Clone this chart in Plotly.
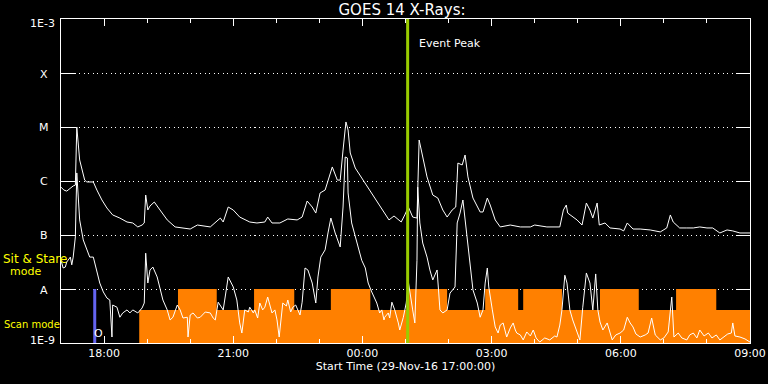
import math
import pandas as pd
import plotly.graph_objects as go

# ---------------- data ----------------
START = pd.Timestamp("2016-11-29 17:00")
END = pd.Timestamp("2016-11-30 09:00")

# GOES 14 long channel (1-8 A), minutes after 17:00 and flux W/m^2
LONG_MIN = [0, 4, 8, 13, 17, 20, 22, 26, 31, 33, 36, 40, 45, 50, 57, 64, 72, 82, 92, 100,
            107, 113, 116, 118, 121, 124, 130, 138, 148, 159, 170, 180, 190, 198, 208, 222,
            226, 233, 240, 249, 263, 273, 284, 288, 294, 305, 316, 329, 336, 343, 350, 355,
            361, 368, 378, 385, 389, 393, 397, 400, 403, 410, 421, 435, 449, 457, 464, 474,
            479, 484, 490, 496, 499, 503, 510, 518, 525, 532, 538, 545, 550, 553, 559, 563,
            567, 574, 584, 588, 594, 598, 605, 612, 626, 640, 654, 660, 677, 695, 700, 704,
            706, 719, 726, 732, 737, 741, 747, 750, 758, 765, 779, 784, 789, 797, 807, 821,
            835, 844, 849, 853, 862, 872, 881, 890, 900, 908, 918, 928, 936, 946, 960]
LONG_FLUX = [7.7e-7, 6.8e-7, 6.5e-7, 7.4e-7, 8.1e-7, 8.4e-7, 1.0e-5, 2.45e-6, 1.29e-6, 1.04e-6,
             9.6e-7, 9.6e-7, 9.6e-7, 6.8e-7, 4.45e-7, 3.16e-7, 2.35e-7, 2.06e-7, 1.74e-7, 1.67e-7,
             1.41e-7, 1.53e-7, 1.67e-7, 5.5e-7, 2.9e-7, 3.45e-7, 4.08e-7, 2.9e-7, 1.9e-7, 1.41e-7,
             1.35e-7, 1.29e-7, 1.53e-7, 1.47e-7, 1.41e-7, 2.06e-7, 1.74e-7, 3.3e-7, 2.9e-7, 2.15e-7,
             1.74e-7, 1.67e-7, 1.74e-7, 2.15e-7, 1.67e-7, 1.67e-7, 1.98e-7, 1.9e-7, 2.15e-7, 4.26e-7,
             3.3e-7, 2.55e-7, 6.0e-7, 6.8e-7, 1.82e-6, 1.04e-6, 1.04e-6, 3.75e-6, 1.24e-5, 8.8e-6,
             3.3e-6, 1.74e-6, 1.04e-6, 5.5e-7, 2.9e-7, 1.9e-7, 2.25e-7, 1.74e-7, 2.35e-7, 3.3e-7,
             2.15e-7, 2.06e-7, 5.74e-6, 3.3e-6, 1.19e-6, 5.5e-7, 4.84e-7, 2.9e-7, 2.15e-7, 2.9e-7,
             3.3e-7, 2.15e-6, 1.98e-6, 3.03e-6, 1.19e-6, 4.84e-7, 2.67e-7, 2.67e-7, 4.84e-7, 3.59e-7,
             1.9e-7, 1.41e-7, 1.53e-7, 1.41e-7, 1.41e-7, 1.53e-7, 1.41e-7, 1.41e-7, 2.9e-7, 3.59e-7,
             2.55e-7, 1.9e-7, 1.53e-7, 3.91e-7, 2.9e-7, 2.06e-7, 3.91e-7, 1.53e-7, 1.67e-7, 1.35e-7,
             1.29e-7, 1.19e-7, 1.67e-7, 1.29e-7, 1.29e-7, 1.24e-7, 1.14e-7, 1.35e-7, 2.35e-7, 1.74e-7,
             1.35e-7, 1.35e-7, 1.35e-7, 1.41e-7, 1.35e-7, 1.35e-7, 1.09e-7, 1.24e-7, 1.19e-7, 1.09e-7,
             1.09e-7]

# GOES 14 short channel (0.5-4 A)
SHORT_MIN = [0, 3, 6, 8, 13, 15, 17, 20, 22, 26, 31, 36, 40, 45, 50, 54, 59, 64, 68, 71, 72, 78,
             82, 86, 92, 96, 100, 107, 113, 116, 118, 121, 124, 128, 134, 138, 142, 148, 152, 156,
             162, 166, 170, 176, 177, 180, 184, 190, 194, 201, 208, 212, 215, 219, 222, 226, 233,
             240, 245, 249, 252, 256, 261, 263, 268, 270, 274, 277, 281, 284, 288, 291, 294, 298,
             301, 304, 307, 309, 314, 316, 320, 323, 327, 330, 333, 336, 340, 344, 350, 355, 358,
             362, 368, 372, 376, 382, 389, 393, 396, 399, 400, 405, 412, 419, 424, 428, 433, 440,
             444, 447, 450, 451, 456, 458, 461, 465, 470, 472, 477, 481, 484, 486, 490, 493, 496,
             497, 500, 504, 510, 514, 518, 524, 525, 528, 532, 538, 542, 549, 552, 556, 560, 563,
             566, 570, 574, 580, 584, 588, 591, 594, 596, 601, 605, 609, 612, 616, 619, 621, 626,
             630, 633, 635, 640, 644, 649, 654, 658, 662, 667, 674, 681, 688, 691, 695, 698, 702,
             705, 709, 713, 718, 723, 727, 732, 737, 741, 745, 748, 751, 755, 761, 765, 768, 773,
             779, 784, 789, 793, 797, 801, 807, 814, 818, 823, 828, 835, 840, 846, 851, 854, 860,
             865, 872, 876, 881, 886, 890, 896, 902, 907, 913, 918, 924, 929, 934, 936, 939, 946,
             953, 960]
SHORT_FLUX = [3.4e-8, 2.45e-8, 2.55e-8, 3.16e-8, 3.9e-8, 2.8e-8, 3.9e-8, 9.2e-8, 1.41e-6, 1.9e-7,
              8.1e-8, 5.3e-8, 3.9e-8, 3.9e-8, 2.25e-8, 1.29e-8, 8.8e-9, 6.8e-9, 6.25e-9, 1.29e-9,
              5.05e-9, 4.6e-9, 3.0e-9, 3.6e-9, 4.1e-9, 3.6e-9, 4.1e-9, 3.6e-9, 4.45e-9, 5.5e-9,
              4.6e-8, 1.29e-8, 2.25e-8, 2.55e-8, 1.67e-8, 9.6e-9, 6.25e-9, 4.1e-9, 2.67e-9, 3.0e-9,
              5.05e-9, 4.1e-9, 2.9e-9, 3.0e-9, 1.29e-9, 3.3e-9, 3.6e-9, 2.9e-9, 3.0e-9, 3.75e-9,
              3.6e-9, 2.9e-9, 2.67e-9, 5.7e-9, 4.84e-9, 4.1e-9, 1.67e-8, 1.09e-8, 6.25e-9, 2.35e-9,
              1.53e-9, 4.1e-9, 3.75e-9, 4.6e-9, 3.6e-9, 4.1e-9, 2.9e-9, 5.5e-9, 4.1e-9, 4.6e-9,
              7.1e-9, 5.05e-9, 3.6e-9, 4.1e-9, 2.67e-9, 1.29e-9, 3.3e-9, 5.5e-9, 4.84e-9, 6.25e-9,
              3.75e-9, 4.6e-9, 5.05e-9, 4.1e-9, 3.3e-9, 5.7e-9, 2.45e-8, 2.25e-8, 1.29e-8, 5.5e-9,
              1.67e-8, 3.9e-8, 5.3e-8, 1.09e-7, 2.06e-7, 1.09e-7, 6.0e-8, 3.3e-7, 2.78e-6, 2.67e-6,
              6.0e-7, 1.67e-7, 7.1e-8, 3.4e-8, 2.45e-8, 1.29e-8, 8.8e-9, 5.5e-9, 3.6e-9, 4.1e-9,
              2.67e-9, 3.0e-9, 3.6e-9, 2.9e-9, 5.7e-9, 4.1e-9, 2.35e-9, 1.74e-9, 3.0e-9, 5.5e-9,
              1.35e-8, 9.6e-9, 4.1e-9, 2.35e-9, 3.4e-8, 7.7e-7, 1.67e-7, 7.1e-8, 3.9e-8, 2.25e-8,
              1.47e-8, 2.25e-8, 1.29e-8, 4.1e-9, 3.6e-9, 4.1e-9, 8.4e-9, 1.09e-8, 1.67e-7, 2.55e-7,
              4.45e-7, 1.9e-7, 7.1e-8, 2.25e-8, 9.6e-9, 5.5e-9, 3.0e-9, 4.1e-9, 1.29e-8, 2.45e-8,
              1.09e-8, 4.1e-9, 1.98e-9, 1.53e-9, 2.15e-9, 2.35e-9, 1.74e-9, 1.29e-9, 1.9e-9, 2.35e-9,
              1.74e-9, 1.53e-9, 1.41e-9, 1.14e-9, 1.6e-9, 1.35e-9, 1.74e-9, 1.24e-9, 1.04e-9, 1.24e-9,
              1.14e-9, 1.35e-9, 1.29e-9, 2.15e-9, 4.1e-9, 1.8e-8, 1.29e-8, 4.1e-9, 2.67e-9, 1.74e-9,
              1.14e-9, 4.6e-9, 1.98e-8, 1.29e-8, 4.1e-9, 1.9e-8, 4.1e-9, 2.45e-9, 1.74e-9, 2.35e-9,
              1.53e-9, 1.14e-9, 1.41e-9, 1.53e-9, 1.74e-9, 3.0e-9, 2.35e-9, 1.98e-9, 1.47e-9, 1.29e-9,
              1.41e-9, 1.53e-9, 2.9e-9, 1.41e-9, 1.14e-9, 1.24e-9, 1.6e-9, 7.1e-9, 1.29e-9, 1.53e-9,
              1.24e-9, 1.14e-9, 1.41e-9, 1.53e-9, 1.24e-9, 1.74e-9, 1.35e-9, 1.53e-9, 1.24e-9, 1.41e-9,
              1.14e-9, 1.29e-9, 1.47e-9, 1.53e-9, 2.35e-9, 1.35e-9, 1.29e-9, 1.19e-9, 1.04e-9]

# Observing modes
SCAN_START = "2016-11-29 18:49"
SCAN_END = "2016-11-30 09:05"
STARE_START = ["2016-11-29 19:43", "2016-11-29 21:29", "2016-11-29 23:16", "2016-11-30 01:05",
               "2016-11-30 02:51", "2016-11-30 03:44", "2016-11-30 05:31", "2016-11-30 07:17"]
STARE_END = ["2016-11-29 20:37", "2016-11-29 22:25", "2016-11-30 00:11", "2016-11-30 01:58",
             "2016-11-30 03:37", "2016-11-30 04:38", "2016-11-30 06:25", "2016-11-30 08:13"]
SCAN_LEVEL = 4.1e-9
STARE_LEVEL = 1e-8
FLOOR = 1e-9

EVENT_PEAK = "2016-11-30 01:03"
OBS_MARK = "2016-11-29 17:47"

Y_TICKS = [1e-9, 1e-8, 1e-7, 1e-6, 1e-5, 1e-4, 1e-3]
Y_LABELS = ["1E-9", "A", "B", "C", "M", "X", "1E-3"]

# ---------------- figure ----------------
FONT = "DejaVu Sans"
WHITE = "#ffffff"
ORANGE = "#ff8000"

def to_time(mins):
    return [START + pd.Timedelta(minutes=m) for m in mins]

# Build the mode polygon
px_ = [pd.Timestamp(SCAN_START), pd.Timestamp(SCAN_START)]
py_ = [FLOOR, SCAN_LEVEL]
for s, e in zip(STARE_START, STARE_END):
    s, e = pd.Timestamp(s), pd.Timestamp(e)
    px_ += [s, s, e, e]
    py_ += [SCAN_LEVEL, STARE_LEVEL, STARE_LEVEL, SCAN_LEVEL]
px_ += [pd.Timestamp(SCAN_END), pd.Timestamp(SCAN_END), pd.Timestamp(SCAN_START)]
py_ += [SCAN_LEVEL, FLOOR, FLOOR]

fig = go.Figure()
fig.add_trace(go.Scatter(x=px_, y=py_, mode="lines", fill="toself", fillcolor=ORANGE,
                         line=dict(width=0, color=ORANGE), hoverinfo="skip"))
fig.add_trace(go.Scatter(x=to_time(LONG_MIN), y=LONG_FLUX, mode="lines",
                         line=dict(color=WHITE, width=1)))
fig.add_trace(go.Scatter(x=to_time(SHORT_MIN), y=SHORT_FLUX, mode="lines",
                         line=dict(color=WHITE, width=1)))
fig.add_trace(go.Scatter(x=[EVENT_PEAK, EVENT_PEAK], y=[1e-9, 1e-3], mode="lines",
                         line=dict(color="#99cc00", width=3)))
fig.add_trace(go.Scatter(x=[OBS_MARK, OBS_MARK], y=[1e-9, 1e-8], mode="lines",
                         line=dict(color="#6464f0", width=3)))

tickfont = dict(family=FONT, size=11, color=WHITE)

fig.update_layout(
    width=768, height=384,
    paper_bgcolor="black", plot_bgcolor="black",
    margin=dict(l=61, r=18, t=19, b=41, autoexpand=False),
    showlegend=False,
    title=dict(text="GOES 14 X-Rays:", x=402 / 768, xanchor="center",
               y=1 - 10 / 384, yanchor="middle", yref="container", xref="container",
               font=dict(family=FONT, size=15, color=WHITE)),
    xaxis=dict(
        type="date", range=[START, END], automargin=False,
        tick0="2016-11-29 18:00", dtick=3 * 3600 * 1000, tickformat="%H:%M",
        ticks="inside", ticklen=7, tickcolor=WHITE, tickwidth=1,
        minor=dict(dtick=3600 * 1000, ticks="inside", ticklen=4, tickcolor=WHITE, showgrid=False),
        showline=True, linecolor=WHITE, linewidth=1, mirror="allticks",
        showgrid=False, zeroline=False, tickfont=tickfont,
        title=dict(text="Start Time (29-Nov-16 17:00:00)", font=tickfont, standoff=3),
    ),
    yaxis=dict(
        type="log", range=[-9, -3], tickvals=Y_TICKS, showticklabels=False, automargin=False,
        ticks="inside", ticklen=14, tickcolor=WHITE, tickwidth=1,
        showline=True, linecolor=WHITE, linewidth=1, mirror="allticks",
        showgrid=True, gridcolor=WHITE, gridwidth=1, griddash="1px,3.5px",
        zeroline=False,
    ),
)

# y tick labels
shifts = {"1E-9": 3, "1E-3": -4, "X": -1, "M": 0, "C": 0, "B": 0, "A": -1}
for val, lab in zip(Y_TICKS, Y_LABELS):
    if lab.startswith("1E"):
        fig.add_annotation(xref="paper", yref="y", x=0, y=math.log10(val), text=lab,
                           showarrow=False, xanchor="right", yanchor="middle", xshift=-4,
                           yshift=shifts[lab], font=tickfont)
    else:
        fig.add_annotation(xref="paper", yref="y", x=0, y=math.log10(val), text=lab,
                           showarrow=False, xanchor="center", yanchor="middle", xshift=-17,
                           yshift=shifts[lab], font=tickfont)

yellow = dict(family=FONT, size=11, color="#ffff00")
fig.add_annotation(xref="paper", yref="paper", x=0, y=(343 - 259) / 324, text="Sit & Stare",
                   showarrow=False, xanchor="left", yanchor="middle", xshift=-60,
                   font=dict(family=FONT, size=12, color="#ffff00"))
fig.add_annotation(xref="paper", yref="paper", x=0, y=(343 - 271) / 324, text="mode",
                   showarrow=False, xanchor="center", yanchor="middle", xshift=-36, font=yellow)
fig.add_annotation(xref="paper", yref="paper", x=0, y=(343 - 324) / 324, text="Scan mode",
                   showarrow=False, xanchor="left", yanchor="middle", xshift=-59,
                   font=dict(family=FONT, size=10, color="#ffff00"))

fig.add_annotation(xref="x", yref="paper", x=EVENT_PEAK, y=(343 - 43) / 324, text="Event Peak",
                   showarrow=False, xanchor="left", yanchor="middle", xshift=9, font=tickfont)
fig.add_annotation(xref="x", yref="y", x=OBS_MARK, y=-8.83, text="O",
                   showarrow=False, xanchor="center", yanchor="middle", xshift=4, font=tickfont)

fig.write_html(
    "out.html",
    config={"displayModeBar": False},
    post_script="document.body.style.margin='0px';document.body.style.backgroundColor='black';",
)
